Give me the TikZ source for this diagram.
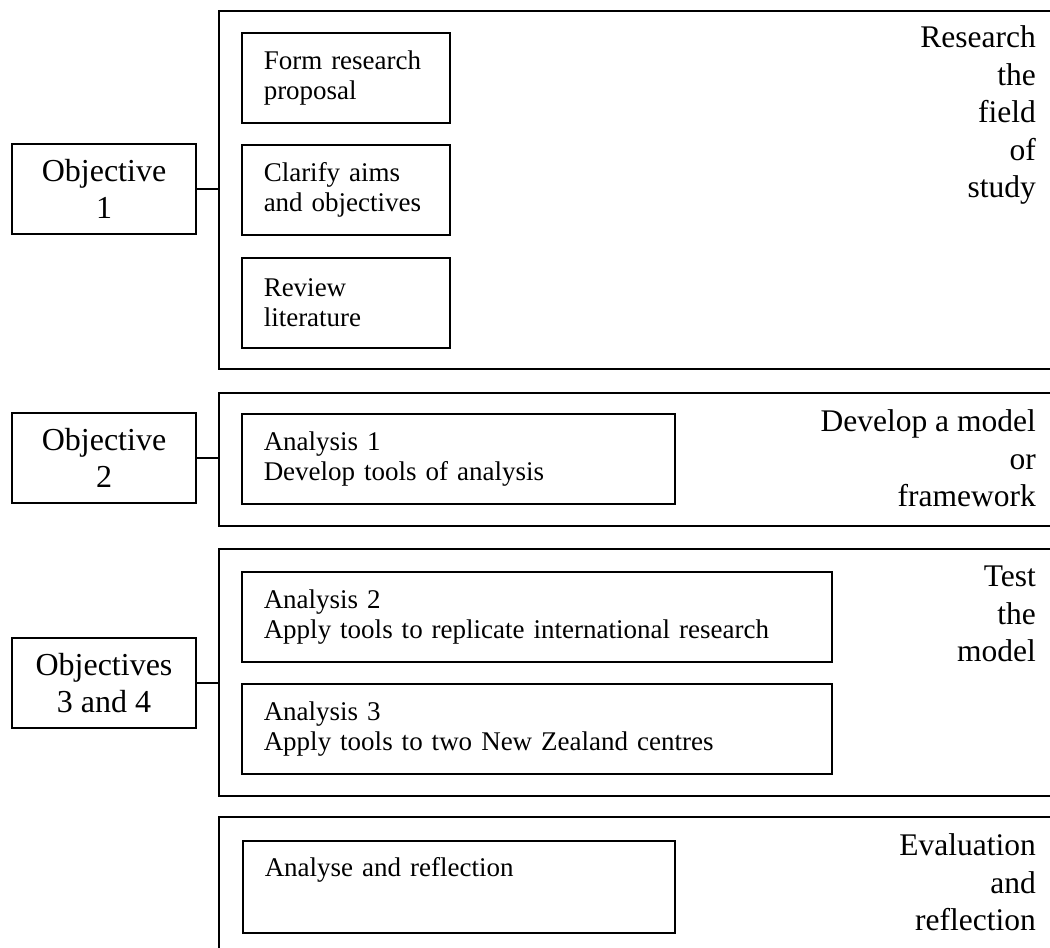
\documentclass[tikz,border=0pt]{standalone}
\usepackage{fontspec}
\setmainfont{Liberation Serif}
\usetikzlibrary{positioning}

\begin{document}
\begin{tikzpicture}[x=1pt,y=-1pt,
  objbox/.style={draw,line width=1.6pt,minimum width=184pt,minimum height=90pt,
    inner sep=0pt,align=center,font=\fontsize{32}{37}\selectfont},
  stagebox/.style={draw,line width=1.6pt,inner sep=0pt,minimum width=834pt,anchor=north west},
  taskbox/.style={draw,line width=1.5pt,minimum height=90pt,inner xsep=22pt,inner ysep=0pt,
    text width=#1,align=left,anchor=north west,font=\fontsize{27}{30}\selectfont},
  stagelabel/.style={anchor=north east,inner sep=0pt,align=right,
    font=\fontsize{31.5}{37.5}\selectfont},
  link/.style={line width=1.6pt}]
  \useasboundingbox (0,0) rectangle (1050,948);

  \node[stagebox,minimum height=358pt] (stage1) at (218,10) {};
  \node[stagebox,minimum height=133pt] (stage2) at (218,392) {};
  \node[stagebox,minimum height=247pt] (stage3) at (218,548) {};
  \node[stagebox,minimum height=140pt] (stage4) at (218,816) {};

  \node[objbox] (obj1) at (104,189) {Objective\\1};
  \node[objbox] (obj2) at (104,458) {Objective\\2};
  \node[objbox] (obj34) at (104,683) {Objectives\\3 and 4};

  \node[taskbox=164pt] (proposal) at (241,32) {Form research\\proposal};
  \node[taskbox=164pt] (aims) at (241,144) {Clarify aims\\and objectives};
  \node[taskbox=164pt] (review) at (241,257) {Review\\literature};
  \node[taskbox=389pt] (analysis1) at (241,413) {Analysis 1\\Develop tools of analysis};
  \node[taskbox=546pt] (analysis2) at (241,571) {Analysis 2\\Apply tools to replicate international research};
  \node[taskbox=546pt] (analysis3) at (241,683) {Analysis 3\\Apply tools to two New Zealand centres};
  \node[taskbox=388pt,minimum height=92pt] (reflect) at (242,840) {Analyse and reflection\\\strut};

  \node[stagelabel] (label1) at (1036,25.5) {Research\\the\\field\\of\\study};
  \node[stagelabel] (label2) at (1036,409.5) {Develop a model\\or\\framework};
  \node[stagelabel] (label3) at (1036,566) {Test\\the\\model};
  \node[stagelabel] (label4) at (1036,833.5) {Evaluation\\and\\reflection};

  \draw[link] (obj1.east) -- (obj1.east -| stage1.west);
  \draw[link] (obj2.east) -- (obj2.east -| stage2.west);
  \draw[link] (obj34.east) -- (obj34.east -| stage3.west);
\end{tikzpicture}
\end{document}
